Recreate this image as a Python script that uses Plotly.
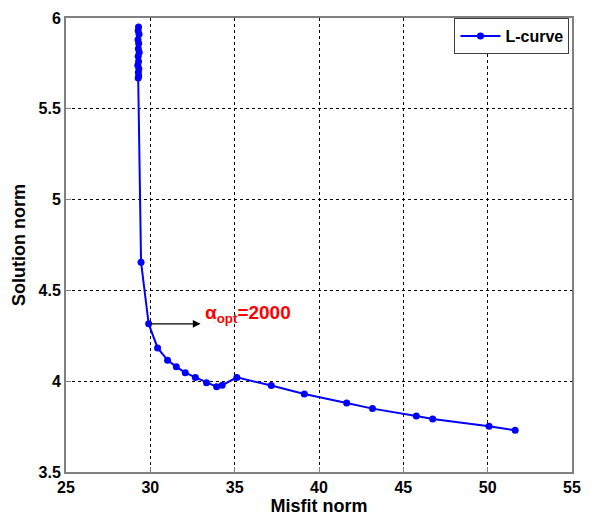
import plotly.graph_objects as go

# L-curve: misfit norm vs solution norm for increasing regularisation
misfit = [29.30, 29.28, 29.33, 29.27, 29.31, 29.29, 29.34, 29.28, 29.30, 29.26,
          29.32, 29.29, 29.31, 29.28,
          29.45, 29.90, 30.43, 31.02, 31.54, 32.07, 32.67, 33.33, 33.93, 34.26,
          35.13, 37.17, 39.13, 41.64, 43.17, 45.77, 46.74, 50.08, 51.63]
sol_norm = [5.95, 5.93, 5.91, 5.88, 5.86, 5.83, 5.81, 5.79, 5.76, 5.74,
            5.72, 5.70, 5.68, 5.67,
            4.655, 4.316, 4.183, 4.116, 4.079, 4.047, 4.021, 3.992, 3.970, 3.978,
            4.021, 3.976, 3.930, 3.880, 3.849, 3.809, 3.792, 3.752, 3.730]

x_ticks = [25, 30, 35, 40, 45, 50, 55]
y_ticks = [3.5, 4, 4.5, 5, 5.5, 6]
y_tick_text = ["3.5", "4", "4.5", "5", "5.5", "6"]

opt_misfit, opt_norm = 29.90, 4.316
arrow_end = 32.98

font_family = "Liberation Sans, Arial, sans-serif"
blue = "rgb(0,0,255)"

fig = go.Figure()
fig.add_trace(go.Scatter(
    x=misfit, y=sol_norm, mode="lines+markers", name="<b>L-curve</b>",
    line=dict(color=blue, width=2),
    marker=dict(color=blue, size=7),
))

# arrow pointing at the optimal regularisation parameter
fig.add_annotation(
    x=arrow_end, y=opt_norm, ax=opt_misfit, ay=opt_norm,
    xref="x", yref="y", axref="x", ayref="y",
    text="", showarrow=True, arrowhead=2, arrowsize=1.3, arrowwidth=1.2,
    arrowcolor="black",
)
fig.add_annotation(
    x=33.15, y=4.37, xref="x", yref="y", xanchor="left", yanchor="middle",
    text="<b>α<sub>opt</sub>=2000</b>", showarrow=False,
    font=dict(family=font_family, size=19, color="rgb(255,0,0)"),
)

grid = dict(showgrid=True, gridcolor="black", gridwidth=1, griddash="3px,3px")
frame = dict(showline=True, linecolor="rgb(128,128,128)", linewidth=2, mirror=True,
             zeroline=False, ticks="inside", ticklen=5, tickcolor="rgb(128,128,128)",
             tickfont=dict(family=font_family, size=16, color="black"))

fig.update_xaxes(range=[25, 55], tickvals=x_ticks,
                 ticktext=[f"<b>{v}</b>" for v in x_ticks],
                 title=dict(text="<b>Misfit norm</b>", standoff=2,
                            font=dict(family=font_family, size=18, color="black")),
                 **grid, **frame)
fig.update_yaxes(range=[3.5, 6], tickvals=y_ticks,
                 ticktext=[f"<b>{t}</b>" for t in y_tick_text],
                 title=dict(text="<b>Solution norm</b>", standoff=8,
                            font=dict(family=font_family, size=18, color="black")),
                 **grid, **frame)

fig.update_layout(
    width=591, height=521,
    margin=dict(l=66, r=10, t=14, b=48),
    plot_bgcolor="white", paper_bgcolor="white",
    showlegend=True,
    legend=dict(x=0.995, y=1.0, xanchor="right", yanchor="top",
                bgcolor="white", bordercolor="rgb(64,64,64)", borderwidth=1,
                font=dict(family=font_family, size=16, color="black"),
                itemwidth=40),
)

fig.write_html("out.html")
